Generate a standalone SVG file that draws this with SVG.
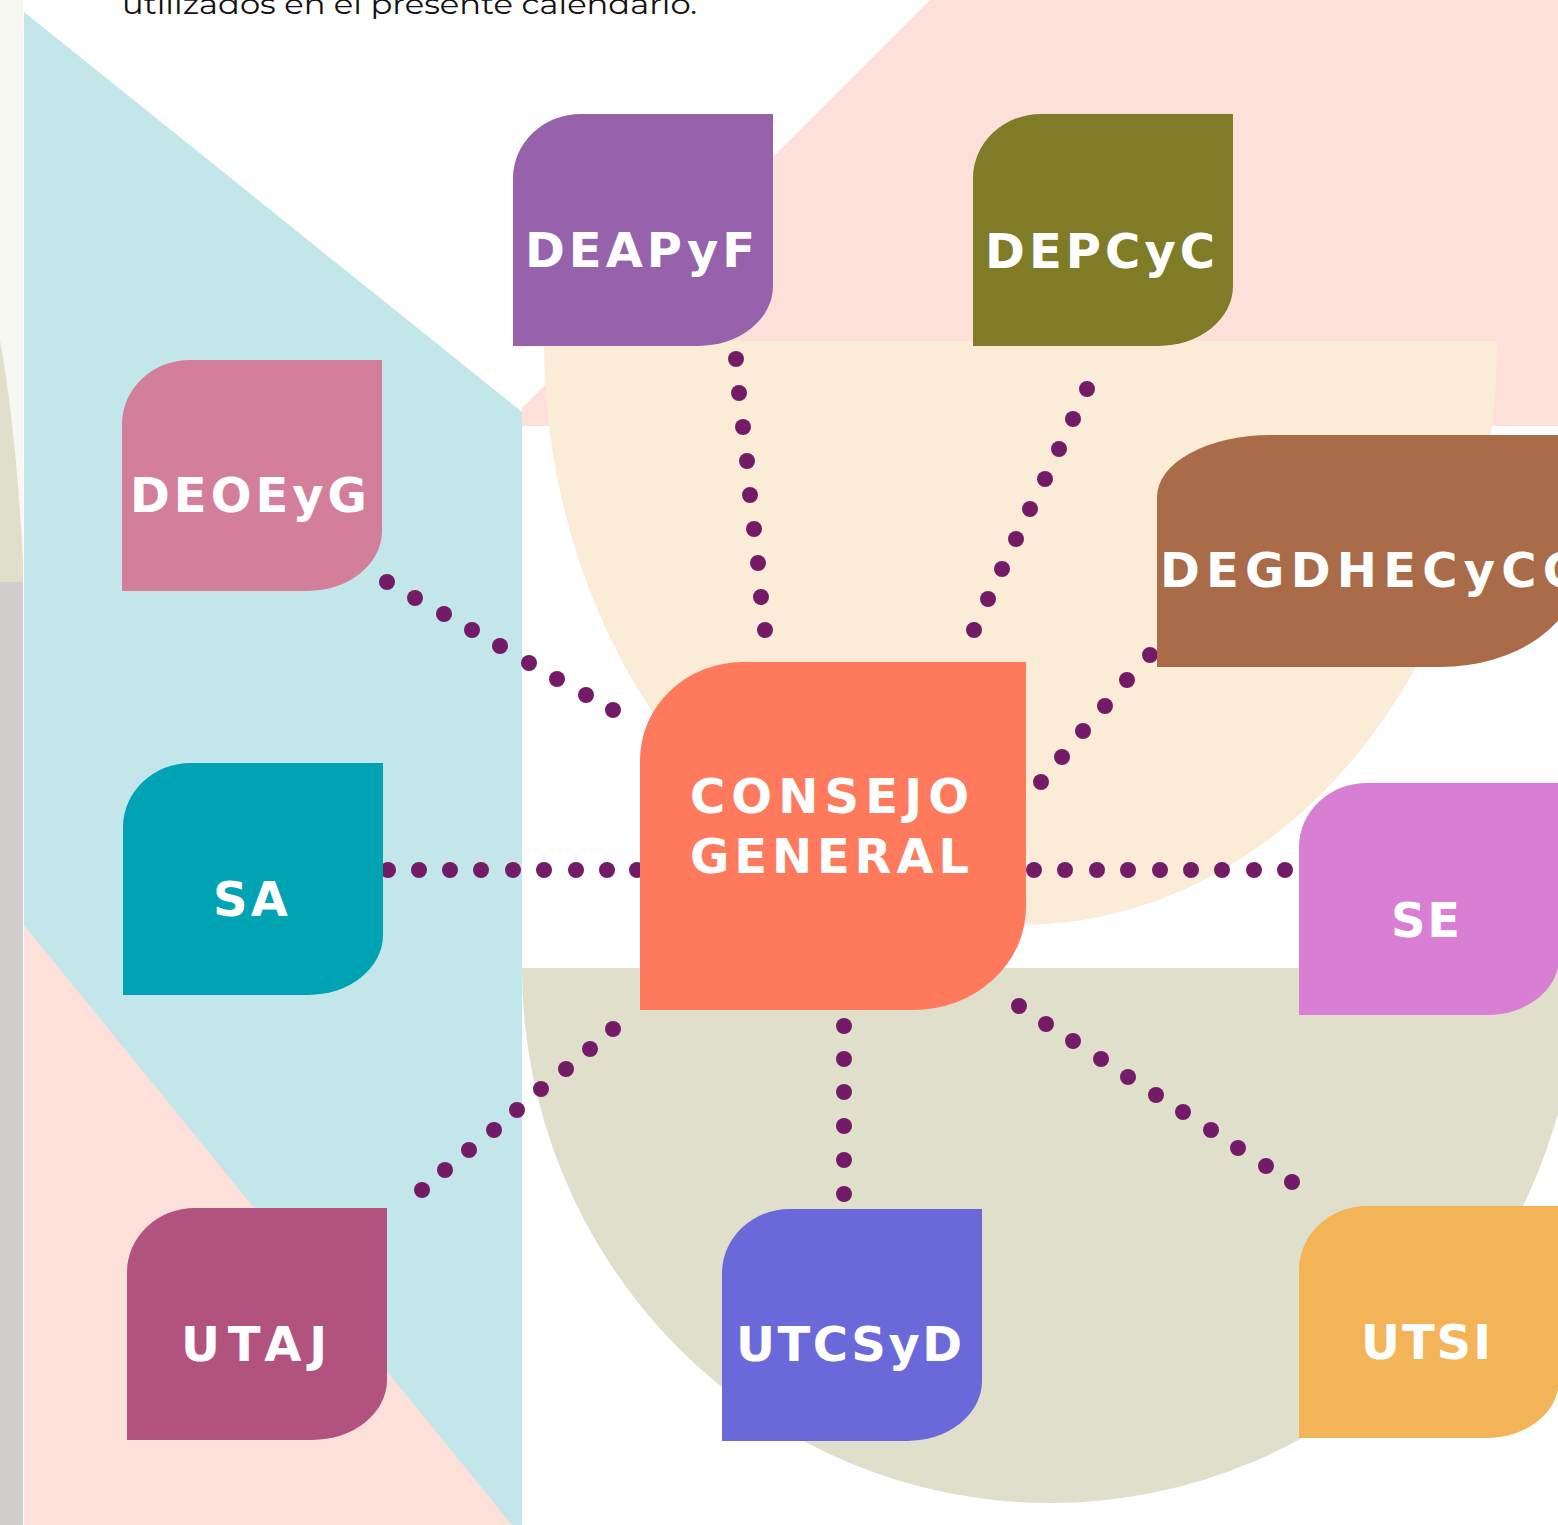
<svg xmlns="http://www.w3.org/2000/svg" width="1558" height="1525" viewBox="0 0 1558 1525">
<style>
.lbl{font-family:"DejaVu Sans","Liberation Sans",sans-serif;font-weight:700;font-size:48px;fill:#ffffff}
.dot{fill:#731b66}
</style>
<defs>
<circle id="d" r="8" class="dot"/>
</defs>
<rect x="0" y="0" width="1558" height="1525" fill="#ffffff"/>
<g id="background">
<rect x="0" y="0" width="23" height="582" fill="#f8f8f2"/>
<path d="M0,340 Q16,430 23,560 L23,582 L0,582 Z" fill="#e0dfcb"/>
<rect x="0" y="582" width="23" height="943" fill="#d0cfcd"/>
<polygon points="930,0 1558,0 1558,426 522,426 522,408" fill="#fde0d9"/>
<polygon points="24,12 522,412 522,1525 24,1525" fill="#c2e6ea"/>
<polygon points="24,925 512,1525 24,1525" fill="#fde0d9"/>
<path d="M544,341 A476.5,584 0 0 0 1497,341 Z" fill="#fbecd7"/>
<path d="M522,968 A528,535 0 0 0 1578,968 Z" fill="#e0dfcb"/>
<text x="122" y="14" font-family="Montserrat,'Open Sans','Liberation Sans',sans-serif" font-size="28" fill="#111111" textLength="575" lengthAdjust="spacingAndGlyphs">utilizados en el presente calendario.</text>
</g>
<g id="connectors">
<use href="#d" x="388" y="870"/><use href="#d" x="419" y="870"/><use href="#d" x="450" y="870"/><use href="#d" x="481" y="870"/><use href="#d" x="513" y="870"/><use href="#d" x="544" y="870"/><use href="#d" x="576" y="870"/><use href="#d" x="607" y="870"/><use href="#d" x="637" y="870"/>
<use href="#d" x="1034" y="870"/><use href="#d" x="1065" y="870"/><use href="#d" x="1097" y="870"/><use href="#d" x="1128" y="870"/><use href="#d" x="1160" y="870"/><use href="#d" x="1191" y="870"/><use href="#d" x="1222" y="870"/><use href="#d" x="1254" y="870"/><use href="#d" x="1285" y="870"/>
<use href="#d" x="387" y="582"/><use href="#d" x="415" y="598"/><use href="#d" x="444" y="614"/><use href="#d" x="472" y="630"/><use href="#d" x="500" y="646"/><use href="#d" x="529" y="663"/><use href="#d" x="557" y="679"/><use href="#d" x="586" y="695"/><use href="#d" x="613" y="710"/>
<use href="#d" x="1019" y="1006"/><use href="#d" x="1046" y="1024"/><use href="#d" x="1073" y="1041"/><use href="#d" x="1101" y="1059"/><use href="#d" x="1128" y="1077"/><use href="#d" x="1156" y="1095"/><use href="#d" x="1183" y="1112"/><use href="#d" x="1211" y="1130"/><use href="#d" x="1238" y="1148"/><use href="#d" x="1266" y="1166"/><use href="#d" x="1292" y="1182"/>
<use href="#d" x="844" y="1026"/><use href="#d" x="844" y="1059"/><use href="#d" x="844" y="1092"/><use href="#d" x="844" y="1126"/><use href="#d" x="844" y="1160"/><use href="#d" x="844" y="1194"/>
<use href="#d" x="613" y="1029"/><use href="#d" x="590" y="1049"/><use href="#d" x="566" y="1069"/><use href="#d" x="541" y="1089"/><use href="#d" x="517" y="1110"/><use href="#d" x="494" y="1130"/><use href="#d" x="469" y="1150"/><use href="#d" x="445" y="1170"/><use href="#d" x="422" y="1190"/>
<use href="#d" x="736" y="359"/><use href="#d" x="739" y="393"/><use href="#d" x="743" y="427"/><use href="#d" x="747" y="461"/><use href="#d" x="750" y="495"/><use href="#d" x="754" y="529"/><use href="#d" x="758" y="563"/><use href="#d" x="761" y="597"/><use href="#d" x="765" y="630"/>
<use href="#d" x="1087" y="389"/><use href="#d" x="1073" y="419"/><use href="#d" x="1059" y="449"/><use href="#d" x="1045" y="479"/><use href="#d" x="1030" y="509"/><use href="#d" x="1016" y="539"/><use href="#d" x="1002" y="569"/><use href="#d" x="988" y="599"/><use href="#d" x="974" y="630"/>
<use href="#d" x="1150" y="655"/><use href="#d" x="1127" y="680"/><use href="#d" x="1105" y="706"/><use href="#d" x="1083" y="731"/><use href="#d" x="1062" y="757"/><use href="#d" x="1041" y="782"/>
</g>
<g id="node-deapyf">
<path d="M513,178 A68,64 0 0 1 581,114 H773 V286 A75,60 0 0 1 698,346 H513 Z" fill="#9662ab"/>
<text class="lbl" x="525" y="267" textLength="230" lengthAdjust="spacing">DEAPyF</text>
</g>
<g id="node-depcyc">
<path d="M973,178 A68,64 0 0 1 1041,114 H1233 V286 A75,60 0 0 1 1158,346 H973 Z" fill="#7f7b26"/>
<text class="lbl" x="985" y="268" textLength="230" lengthAdjust="spacing">DEPCyC</text>
</g>
<g id="node-deoeyg">
<path d="M122,424 A68,64 0 0 1 190,360 H382 V531 A75,60 0 0 1 307,591 H122 Z" fill="#d37f9c"/>
<text class="lbl" x="130" y="512" textLength="237" lengthAdjust="spacing">DEOEyG</text>
</g>
<g id="node-degdhecycc">
<path d="M1157,497 A113,62 0 0 1 1270,435 H1580 V567 A140,100 0 0 1 1440,667 H1157 Z" fill="#a96b48"/>
<text class="lbl" x="1160" y="587" textLength="418" lengthAdjust="spacing">DEGDHECyCC</text>
</g>
<g id="node-sa">
<path d="M123,827 A68,64 0 0 1 191,763 H383 V935 A75,60 0 0 1 308,995 H123 Z" fill="#00a3b4"/>
<text class="lbl" x="213" y="916" textLength="75" lengthAdjust="spacing">SA</text>
</g>
<g id="node-consejo-general">
<path d="M640,760 A103,98 0 0 1 743,662 H1026 V907 A113,103 0 0 1 913,1010 H640 Z" fill="#ff795c"/>
<text class="lbl" x="690" y="813" textLength="279" lengthAdjust="spacing">CONSEJO</text>
<text class="lbl" x="690" y="873" textLength="279" lengthAdjust="spacing">GENERAL</text>
</g>
<g id="node-se">
<path d="M1299,847 A68,64 0 0 1 1367,783 H1559 V958 A72,57 0 0 1 1487,1015 H1299 Z" fill="#d87ed3"/>
<text class="lbl" x="1391" y="937" textLength="69" lengthAdjust="spacing">SE</text>
</g>
<g id="node-utaj">
<path d="M127,1272 A68,64 0 0 1 195,1208 H387 V1380 A75,60 0 0 1 312,1440 H127 Z" fill="#b1537e"/>
<text class="lbl" x="181" y="1361" textLength="146" lengthAdjust="spacing">UTAJ</text>
</g>
<g id="node-utcsyd">
<path d="M722,1273 A68,64 0 0 1 790,1209 H982 V1381 A75,60 0 0 1 907,1441 H722 Z" fill="#6b69d9"/>
<text class="lbl" x="736" y="1361" textLength="226" lengthAdjust="spacing">UTCSyD</text>
</g>
<g id="node-utsi">
<path d="M1299,1270 A68,64 0 0 1 1367,1206 H1559 V1380 A72,58 0 0 1 1487,1438 H1299 Z" fill="#f2b457"/>
<text class="lbl" x="1361" y="1359" textLength="130" lengthAdjust="spacing">UTSI</text>
</g>
</svg>
